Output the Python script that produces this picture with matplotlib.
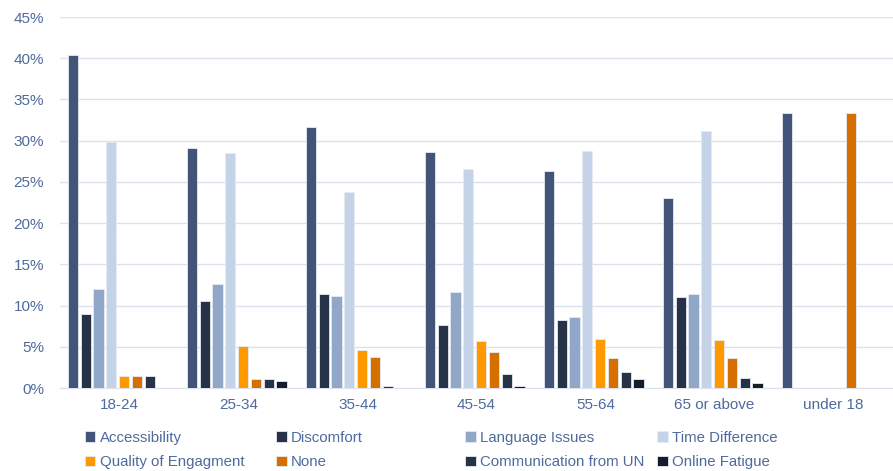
import numpy as np
import matplotlib
matplotlib.use("Agg")
import matplotlib.pyplot as plt

plt.rcParams['font.family'] = ['Liberation Sans', 'DejaVu Sans']

groups = ["18-24", "25-34", "35-44", "45-54", "55-64", "65 or above", "under 18"]
series = ["Accessibility", "Discomfort", "Language Issues", "Time Difference",
          "Quality of Engagment", "None", "Communication from UN", "Online Fatigue"]
colors = ["#435479", "#263248", "#91A7C8", "#C5D3E8",
          "#FF9900", "#D46F00", "#263248", "#151D2B"]

accessibility = [40.4, 29.1, 31.6, 28.6, 26.3, 23.1, 33.3]
discomfort = [9.0, 10.5, 11.4, 7.6, 8.2, 11.0, 0]
language = [12.0, 12.6, 11.2, 11.7, 8.6, 11.4, 0]
time_diff = [29.8, 28.5, 23.8, 26.6, 28.8, 31.2, 0]
quality = [1.5, 5.1, 4.6, 5.7, 6.0, 5.8, 0]
none = [1.5, 1.1, 3.8, 4.4, 3.7, 3.7, 33.3]
comm_un = [1.5, 1.1, 0.3, 1.7, 2.0, 1.2, 0]
fatigue = [0, 0.8, 0, 0.2, 1.1, 0.6, 0]

values = [accessibility, discomfort, language, time_diff, quality, none, comm_un, fatigue]

text_color = "#4F6A9C"

fig = plt.figure(figsize=(8.93, 4.71), dpi=100)
ax = fig.add_axes([0.0672, 0.1762, 0.9328, 0.7877])

x = np.arange(len(groups))
slot = 0.1076
width = 0.085
bars = []
for i, (name, vals) in enumerate(zip(series, values)):
    b = ax.bar(x + (i - 3.5) * slot - 0.015, vals, width, color=colors[i], label=name,
               edgecolor="#E6EAF2", linewidth=0.6, zorder=3)
    bars.append(b)

ax.set_xlim(-0.5, len(groups) - 0.5)
ax.set_ylim(0, 45)
ax.set_yticks(np.arange(0, 46, 5))
ax.set_yticklabels([f"{v}%" for v in range(0, 46, 5)])
ax.set_xticks(x)
ax.set_xticklabels(groups)
ax.grid(axis="y", color="#DCE1EC", linewidth=1, zorder=0)
for s in ["top", "right", "left"]:
    ax.spines[s].set_visible(False)
ax.spines["bottom"].set_color("#DCE1EC")
ax.tick_params(axis="both", length=0, labelsize=11, colors=text_color)
ax.tick_params(axis="y", pad=11.5)
ax.tick_params(axis="x", pad=7)

# legend: 4 equal-width columns, row-major like Excel
col_x = [0.080, 0.294, 0.506, 0.721]
for c in range(4):
    idx = [c, c + 4]
    leg = fig.legend([bars[i] for i in idx], [series[i] for i in idx],
                     loc="lower left", bbox_to_anchor=(col_x[c], -0.025), frameon=False,
                     fontsize=10.8, handlelength=0.7, handleheight=0.7,
                     handletextpad=0.3, labelspacing=0.7)
    for t in leg.get_texts():
        t.set_color(text_color)

fig.savefig("out.png", dpi=100)
